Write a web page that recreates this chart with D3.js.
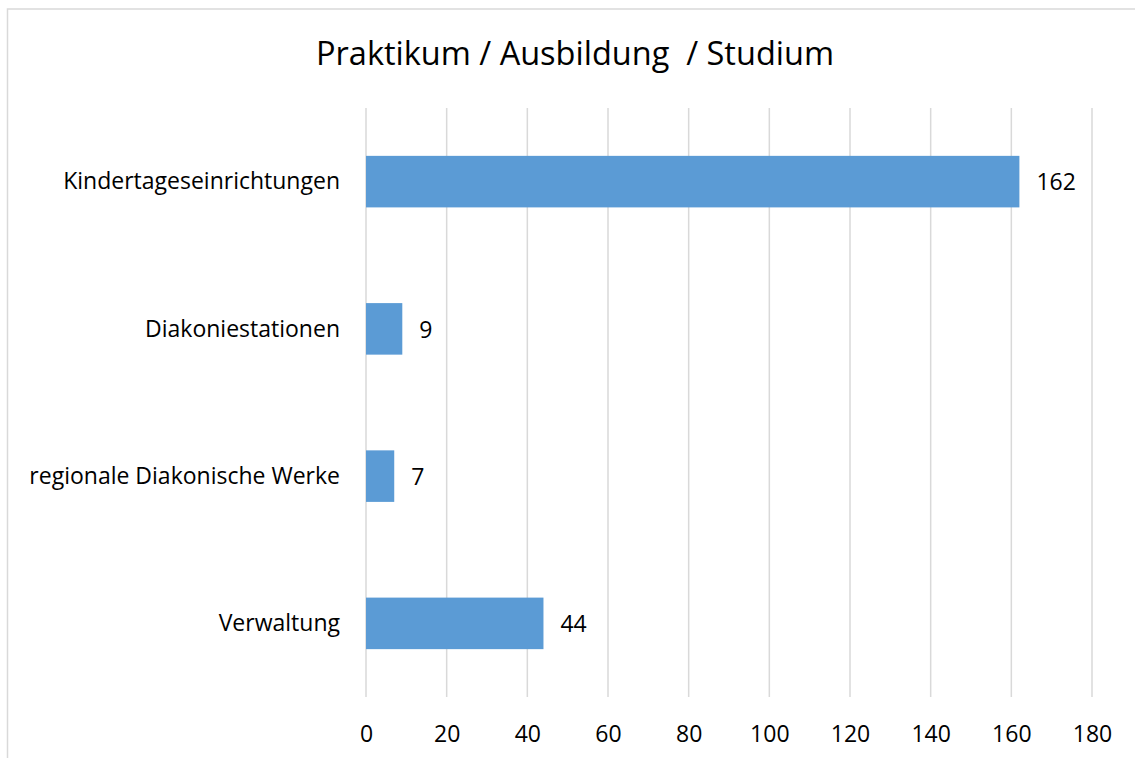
<!DOCTYPE html>
<html>
<head>
<meta charset="utf-8">
<script src="https://cdn.jsdelivr.net/npm/d3@7"></script>
<style>
  body { margin: 0; background: #fff; }
  text { font-family: "Open Sans", sans-serif; fill: #000; }
</style>
</head>
<body>
<div id="chart"></div>
<script>
// Praktikum / Ausbildung / Studium - horizontal bars

const categories = ['Kindertageseinrichtungen', 'Diakoniestationen', 'regionale Diakonische Werke', 'Verwaltung']
const values = [162, 9, 7, 44]
const xTicks = [0, 20, 40, 60, 80, 100, 120, 140, 160, 180]
const title = 'Praktikum / Ausbildung  / Studium'

const width = 1135
const height = 758
const margin = {top: 108, right: 43, bottom: 61, left: 366}
const font = '"Open Sans", sans-serif'

const svg = d3.select('#chart')
  .append('svg')
  .attr('width', width)
  .attr('height', height)

// chart frame (only top and left edges are inside the window)
svg.append('rect')
  .attr('x', 7.5)
  .attr('y', 9)
  .attr('width', width + 20)
  .attr('height', height + 20)
  .attr('fill', '#fff')
  .attr('stroke', '#d9d9d9')
  .attr('stroke-width', 1.5)

const x = d3.scaleLinear()
  .domain([0, 180])
  .range([margin.left, width - margin.right])

const y = d3.scaleBand()
  .domain(categories)
  .range([margin.top, height - margin.bottom])
  .paddingInner(0.65)
  .paddingOuter(0.325)

// gridlines
svg.append('g')
  .selectAll('line')
  .data(xTicks)
  .enter()
  .append('line')
  .attr('x1', (d) => x(d))
  .attr('x2', (d) => x(d))
  .attr('y1', margin.top)
  .attr('y2', height - margin.bottom)
  .attr('stroke', '#d9d9d9')
  .attr('stroke-width', 1.5)

// x tick labels
const xAxis = svg.append('g')
  .attr('transform', 'translate(0, 742)')
  .call(d3.axisBottom(x).tickValues(xTicks).tickSize(0).tickPadding(0))
xAxis.select('.domain').remove()
xAxis.selectAll('text')
  .attr('font-size', 23)
  .attr('dy', 0)
  .style('font-family', font)
  .attr('fill', '#000')

// category labels
const yAxis = svg.append('g')
  .attr('transform', `translate(${margin.left - 26}, 0)`)
  .call(d3.axisLeft(y).tickSize(0).tickPadding(0))
yAxis.select('.domain').remove()
yAxis.selectAll('text')
  .attr('font-size', 23)
  .attr('dy', '0.34em')
  .style('font-family', font)
  .attr('fill', '#000')

// bars
svg.append('g')
  .selectAll('rect')
  .data(values)
  .enter()
  .append('rect')
  .attr('x', x(0))
  .attr('y', (d, i) => y(categories[i]))
  .attr('width', (d) => x(d) - x(0))
  .attr('height', y.bandwidth())
  .attr('fill', '#5b9bd5')

// value labels
svg.append('g')
  .selectAll('text')
  .data(values)
  .enter()
  .append('text')
  .attr('x', (d) => x(d) + 17)
  .attr('y', (d, i) => y(categories[i]) + y.bandwidth() / 2)
  .attr('dy', '0.38em')
  .attr('font-size', 23)
  .text((d) => d)

// title
svg.append('text')
  .attr('x', 575)
  .attr('y', 65)
  .attr('text-anchor', 'middle')
  .attr('font-size', 32.5)
  .style('white-space', 'pre')
  .text(title)
</script>
</body>
</html>
